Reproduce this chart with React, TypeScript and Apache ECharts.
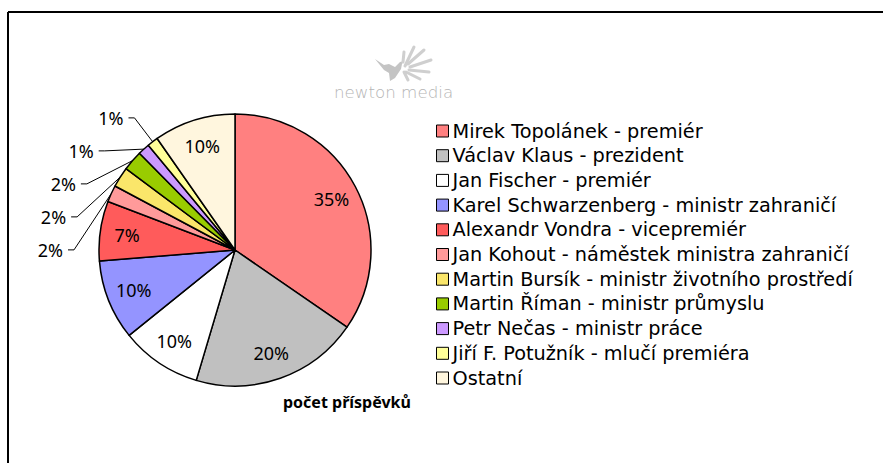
import React, { useEffect, useRef } from "react";
import * as echarts from "echarts";

const categories = [
  "Mirek Topolánek - premiér",
  "Václav Klaus - prezident",
  "Jan Fischer - premiér",
  "Karel Schwarzenberg - ministr zahraničí",
  "Alexandr Vondra - vicepremiér",
  "Jan Kohout - náměstek ministra zahraničí",
  "Martin Bursík - ministr životního prostředí",
  "Martin Říman - ministr průmyslu",
  "Petr Nečas - ministr práce",
  "Jiří F. Potužník - mlučí premiéra",
  "Ostatní",
];
const values = [34.6, 20.0, 9.6, 9.5, 7.1, 2.0, 2.4, 2.4, 1.4, 1.3, 9.7];
const colors = [
  "#FF8080",
  "#C0C0C0",
  "#FFFFFF",
  "#9494FF",
  "#FF5B5B",
  "#FF9A9A",
  "#FAE66A",
  "#99CC00",
  "#CC99FF",
  "#FFFF99",
  "#FFF6DE",
];
const outsideLabelIdx = [5, 6, 7, 8, 9];
const titleText = "počet příspěvků";
const logoText = "newton media";

const FONT = "DejaVu Sans";
const LABEL_FONT = "Noto Sans";

echarts.graphic.registerShape(
  "bird",
  echarts.graphic.extendPath(
    "M0 3 L9 9 L14 8 L20 11 L25 6 L29 5 L27 8 L26 13 L20 22 L15 25 L14 17 L9 14 Z",
    {}
  )
);

export default function App() {
  const ref = useRef<HTMLDivElement>(null);
  useEffect(() => {
    if (!ref.current) return;
    const chart = echarts.init(ref.current, undefined, { renderer: "svg" });
    const pct = (p: any) => Math.round(p.percent) + "%";
    const splash = [
      [405, 66, 414, 47],
      [408, 64, 424, 50],
      [410, 67, 431, 60],
      [409, 70, 429, 72],
      [406, 72, 420, 79],
      [404, 72, 408, 80],
      [403, 62, 404, 52],
    ];
    chart.setOption({
      animation: false,
      backgroundColor: "#fff",
      title: {
        text: titleText,
        left: 283,
        top: 394,
        padding: 0,
        textStyle: { fontFamily: LABEL_FONT, fontSize: 16, fontWeight: "bold", color: "#000" },
      },
      legend: {
        orient: "vertical",
        left: 436,
        top: 120.5,
        padding: 0,
        itemWidth: 12,
        itemHeight: 12,
        itemGap: 3.7,
        icon: "rect",
        selectedMode: false,
        textStyle: { fontFamily: FONT, fontSize: 19.3, color: "#000", lineHeight: 21, padding: [0, 0, 0, -1] },
        data: categories.map((n, i) => ({
          name: n,
          itemStyle: { color: colors[i], borderColor: "#000", borderWidth: 1 },
        })),
      },
      graphic: [
        { type: "line", shape: { x1: 8, y1: 12, x2: 883, y2: 12 }, style: { stroke: "#000", lineWidth: 2 } },
        { type: "line", shape: { x1: 8, y1: 12, x2: 8, y2: 463 }, style: { stroke: "#000", lineWidth: 2 } },
        {
          type: "bird",
          x: 375,
          y: 56,
          style: { fill: "#c4c4c4" },
        },
        ...splash.map((s) => ({
          type: "line",
          shape: { x1: s[0], y1: s[1], x2: s[2], y2: s[3] },
          style: { stroke: "#cfcfcf", lineWidth: 3, lineCap: "round" },
        })),
        {
          type: "text",
          x: 334,
          y: 83,
          style: {
            text: logoText,
            fontFamily: FONT,
            fontSize: 16.7,
            fontWeight: 200,
            fill: "#b5b5b5",
          },
        },
      ],
      series: [
        {
          type: "pie",
          center: [235, 250],
          radius: 136,
          startAngle: 90,
          clockwise: true,
          avoidLabelOverlap: true,
          minShowLabelAngle: 0,
          silent: true,
          itemStyle: { borderColor: "#000", borderWidth: 1.5 },
          label: { show: false },
          labelLine: { show: false },
          data: categories.map((n, i) => {
            const out = outsideLabelIdx.includes(i);
            return {
              name: n,
              value: values[i],
              itemStyle: { color: colors[i] },
              label: {
                show: out,
                position: "outside",
                formatter: pct,
                fontFamily: LABEL_FONT,
                fontSize: 18,
                lineHeight: 31,
                color: "#000",
              },
              labelLine: {
                show: out,
                length: 30,
                length2: 6,
                lineStyle: { color: "#000", width: 1 },
              },
            };
          }),
        },
        {
          type: "pie",
          center: [235, 250],
          radius: [0, 212],
          startAngle: 90,
          clockwise: true,
          silent: true,
          minShowLabelAngle: 0,
          itemStyle: { color: "rgba(0,0,0,0)", borderWidth: 0 },
          emphasis: { disabled: true },
          labelLine: { show: false },
          data: values.map((v, i) => ({
            name: "lbl-" + i,
            value: v,
            label: {
              show: !outsideLabelIdx.includes(i),
              position: "inside",
              formatter: pct,
              fontFamily: LABEL_FONT,
              fontSize: 18,
              color: "#000",
            },
          })),
        },
      ],
    });
    return () => chart.dispose();
  }, []);
  return (
    <div
      ref={ref}
      style={{ position: "fixed", left: 0, top: 0, width: 883, height: 463, background: "#fff" }}
    />
  );
}
